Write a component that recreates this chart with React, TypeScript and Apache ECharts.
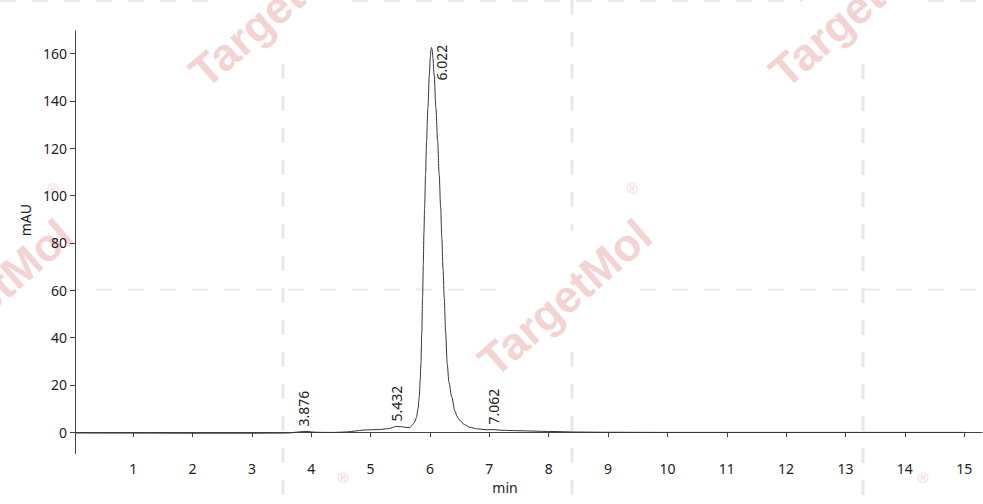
import React, { useEffect, useRef } from 'react';
import * as echarts from 'echarts';

// chromatogram trace (min / mAU)
const retentionTime = [
  0.02, 1, 2, 3, 3.5, 3.65, 3.75, 3.876, 3.95, 4.05, 4.2, 4.4, 4.6, 4.75, 4.88,
  5.0, 5.15, 5.3, 5.432, 5.52, 5.6, 5.66, 5.7, 5.74, 5.77, 5.8, 5.82, 5.835,
  5.848, 5.862, 5.876, 5.888, 5.898, 5.91, 5.926, 5.943, 5.965, 5.99, 6.005,
  6.018, 6.027, 6.037, 6.05, 6.07, 6.1, 6.129, 6.155, 6.18, 6.2, 6.22, 6.24,
  6.265, 6.29, 6.32, 6.365, 6.42, 6.46, 6.5, 6.58, 6.67, 6.8, 6.95, 7.062, 7.2,
  7.5, 8.0, 8.5, 9, 10, 12, 15
];
const absorbance = [
  -0.35, -0.4, -0.45, -0.45, -0.4, -0.3, 0.0, 0.3, 0.25, 0.0, -0.1, -0.1, 0.1,
  0.5, 0.9, 1.0, 1.1, 1.5, 2.4, 2.3, 2.0, 1.9, 3.0, 4.2, 6.0, 10, 15, 22, 29, 42,
  57, 71, 84, 95, 109, 123, 137, 151, 158, 161.8, 162.5, 161.5, 158, 151, 137,
  123, 109, 95, 82, 69, 57, 42, 29, 21, 15, 9, 6.5, 5, 3.2, 2.1, 1.4, 1.0, 1.1,
  0.8, 0.6, 0.3, 0.05, -0.05, -0.1, -0.1, -0.1
];

const peakTimes = [3.876, 5.432, 6.022, 7.062];
const peakHeights = [0.3, 2.4, 162.5, 1.1];
const peakLabels = ['3.876', '5.432', '6.022', '7.062'];

const xTicks = [1, 2, 3, 4, 5, 6, 7, 8, 9, 10, 11, 12, 13, 14, 15];
const yTicks = [0, 20, 40, 60, 80, 100, 120, 140, 160];

// watermark tile grid
const markCols = [283, 572, 863];
const markRows = [0, 289];
const markCentres = [
  [283, 0], [863, 0], [572, 289], [-7, 289], [283, 578], [863, 578]
];

const FONT = "'Noto Sans', 'Open Sans', sans-serif";
const PINK = '#f4d3d3';

function watermark(): any[] {
  const els: any[] = [];
  markCols.forEach((x) => {
    els.push({
      type: 'line', z: -3, silent: true,
      shape: { x1: x, y1: 0, x2: x, y2: 504 },
      style: { stroke: '#e8e8e8', lineWidth: 3, lineDash: [15, 17] }
    });
  });
  markRows.forEach((y) => {
    els.push({
      type: 'line', z: -3, silent: true,
      shape: { x1: 0, y1: y + 0.5, x2: 983, y2: y + 0.5 },
      style: { stroke: '#ebebeb', lineWidth: y === 0 ? 3 : 2, lineDash: [16, 16] }
    });
  });
  markCentres.forEach(([cx, cy]) => {
    els.push({
      type: 'rect', z: -2, silent: true,
      shape: { x: cx - 60, y: cy - 58, width: 120, height: 116 },
      style: { fill: '#fff' }
    });
    els.push({
      type: 'text', z: -1, silent: true,
      x: cx - 7, y: cy + 9, rotation: (41 * Math.PI) / 180,
      style: {
        text: 'TargetMol', fill: PINK, font: "bold 45px 'Liberation Sans', Arial, sans-serif",
        align: 'center', verticalAlign: 'middle'
      }
    });
    els.push({
      type: 'text', z: -1, silent: true,
      x: cx + 60, y: cy - 101,
      style: {
        text: '®', fill: PINK, font: "15px 'Liberation Sans', Arial, sans-serif",
        align: 'center', verticalAlign: 'middle'
      }
    });
  });
  return els;
}

export default function App() {
  const ref = useRef<HTMLDivElement>(null);

  useEffect(() => {
    if (!ref.current) return;
    const chart = echarts.init(ref.current, undefined, { renderer: 'svg' });

    const labelStyle = {
      show: true,
      position: 'top',
      distance: 5,
      rotate: 90,
      align: 'left',
      verticalAlign: 'middle',
      color: '#222',
      fontSize: 14,
      fontFamily: FONT,
      formatter: (p: any) => p.name
    };

    chart.setOption({
      animation: false,
      backgroundColor: '#fff',
      graphic: watermark(),
      grid: { left: 75, right: 1, top: 30.7, bottom: 50.3 },
      xAxis: {
        type: 'value',
        min: 0.02,
        max: 15.3,
        name: 'min',
        nameLocation: 'middle',
        nameGap: 27,
        nameTextStyle: { color: '#222', fontSize: 14, fontFamily: FONT, padding: [0, 47, 0, 0] },
        axisLine: { show: true, lineStyle: { color: '#444', width: 1 } },
        axisTick: { show: true, length: 5, customValues: xTicks, lineStyle: { color: '#444' } },
        axisLabel: { customValues: xTicks, color: '#222', fontSize: 14, fontFamily: FONT, margin: 8 },
        splitLine: { show: false }
      },
      yAxis: {
        type: 'value',
        min: -9.1,
        max: 169.6,
        name: 'mAU',
        nameLocation: 'middle',
        nameGap: 40,
        nameTextStyle: { color: '#222', fontSize: 14, fontFamily: FONT, padding: [0, 0, 0, 44] },
        axisLine: { show: true, lineStyle: { color: '#444', width: 1 } },
        axisTick: { show: true, length: 5, customValues: yTicks, lineStyle: { color: '#444' } },
        axisLabel: { customValues: yTicks, color: '#222', fontSize: 14, fontFamily: FONT, margin: 8 },
        splitLine: { show: false }
      },
      series: [
        {
          type: 'line',
          data: retentionTime.map((t, i) => [t, absorbance[i]]),
          symbol: 'none',
          smooth: 0.3,
          smoothMonotone: 'x',
          lineStyle: { color: '#333', width: 1 },
          markPoint: {
            symbol: 'circle',
            symbolSize: 0,
            silent: true,
            label: labelStyle,
            data: peakTimes.map((t, i) => ({
              name: peakLabels[i],
              coord: [t, peakHeights[i]],
              label: peakLabels[i] === '6.022' ? { offset: [-38, 10] } : undefined
            }))
          }
        }
      ]
    });

    return () => chart.dispose();
  }, []);

  return (
    <div
      ref={ref}
      style={{ position: 'fixed', left: 0, top: 0, width: 983, height: 504, background: '#fff' }}
    />
  );
}
